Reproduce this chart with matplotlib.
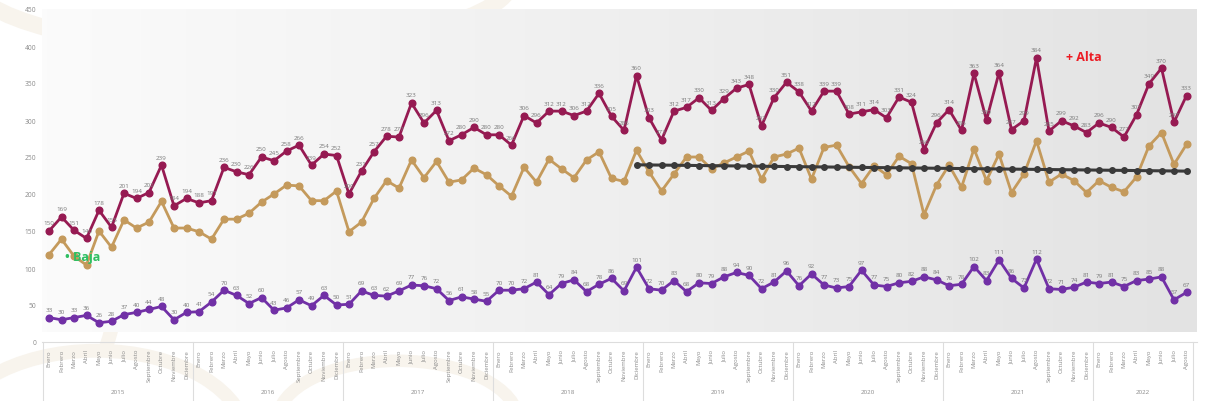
import numpy as np
import matplotlib
matplotlib.use("Agg")
import matplotlib.pyplot as plt
from matplotlib.patches import Arc

plt.rcParams['font.family'] = ['Open Sans', 'DejaVu Sans']

# --- data (Enero 2015 .. Agosto 2022) ---
months = ['Enero', 'Febrero', 'Marzo', 'Abril', 'Mayo', 'Junio', 'Julio',
          'Agosto', 'Septiembre', 'Octubre', 'Noviembre', 'Diciembre']
years = ['2015', '2016', '2017', '2018', '2019', '2020', '2021', '2022']
last_year_months = 8

alta = [150, 169, 151, 140, 178, 155, 201, 194, 202, 239, 184, 194,
        188, 191, 236, 230, 226, 250, 245, 258, 266, 239, 254, 252,
        200, 231, 257, 278, 277, 323, 296, 313, 272, 280, 290, 280,
        280, 266, 306, 296, 312, 312, 306, 312, 336, 305, 286, 360,
        303, 273, 312, 317, 330, 313, 329, 343, 348, 292, 330, 351,
        338, 312, 339, 339, 308, 311, 314, 303, 331, 324, 260, 296,
        314, 286, 363, 300, 364, 287, 299, 384, 285, 299, 292, 283,
        296, 290, 277, 307, 349, 370, 297, 333]

media = [118, 139, 116, 104, 150, 128, 165, 154, 162, 190, 154, 154,
         149, 139, 166, 166, 174, 189, 200, 212, 211, 191, 191, 204,
         149, 162, 194, 218, 208, 246, 222, 244, 216, 219, 235, 226,
         211, 197, 236, 216, 247, 234, 222, 246, 257, 221, 217, 259,
         230, 204, 227, 250, 250, 234, 242, 250, 258, 220, 250, 254,
         262, 220, 263, 266, 237, 214, 238, 226, 251, 241, 172, 212,
         239, 209, 261, 218, 254, 202, 227, 272, 216, 227, 218, 202,
         218, 209, 203, 223, 265, 283, 240, 267]

baja = [33, 30, 33, 36, 26, 28, 37, 40, 44, 48, 30, 40,
        41, 54, 70, 63, 52, 60, 43, 46, 57, 49, 63, 50,
        51, 69, 63, 62, 69, 77, 76, 72, 56, 61, 58, 55,
        70, 70, 72, 81, 64, 79, 84, 68, 78, 86, 69, 101,
        72, 70, 83, 68, 80, 79, 88, 94, 90, 72, 81, 96,
        76, 92, 77, 73, 75, 97, 77, 75, 80, 82, 88, 84,
        76, 78, 102, 83, 111, 86, 73, 112, 72, 71, 74, 81,
        79, 81, 75, 83, 85, 88, 57, 67]

trend_start = 47  # Diciembre 2018

# --- layout ---
W, H = 1205, 402
fig = plt.figure(figsize=(W / 100, H / 100), dpi=100)
fig.patch.set_facecolor('white')

# faint watermark swooshes
wm = '#f8f4ed'
for cx, cy, w, h, t1, t2, lw in [(-0.02, 0.55, 0.22, 1.3, -70, 70, 14),
                                 (-0.05, 0.35, 0.30, 1.1, -60, 60, 10),
                                 (0.20, 1.05, 0.45, 0.35, 180, 360, 12),
                                 (0.08, -0.10, 0.25, 0.45, 0, 180, 10),
                                 (0.33, -0.05, 0.20, 0.30, 0, 180, 9)]:
    fig.add_artist(Arc((cx, cy), w, h, theta1=t1, theta2=t2, color=wm,
                       lw=lw, transform=fig.transFigure, zorder=0))

x0, x1 = -0.56, 91.84
ax = fig.add_axes([42 / W, (H - 343) / H, 1155 / W, 333 / H])
ax.set_xlim(x0, x1)
ax.set_ylim(0, 450)
ax.patch.set_alpha(0)
for s in ax.spines.values():
    s.set_visible(False)

# grey gradient background of the plot area
grad = np.linspace(0, 1, 256).reshape(1, -1)
ax.imshow(grad, extent=[x0, x1, 13.5, 450], aspect='auto', origin='lower',
          cmap=matplotlib.colors.LinearSegmentedColormap.from_list('g', ['#fbfbfb', '#e3e3e3']),
          zorder=0)

x = np.arange(len(alta))
c_alta, c_media, c_baja = '#961a52', '#c49a5c', '#7130a6'

ax.plot(x, alta, color=c_alta, lw=2, marker='o', ms=4.8, zorder=3)
ax.plot(x, media, color=c_media, lw=2, marker='o', ms=4.8, zorder=3)
ax.plot(x, baja, color=c_baja, lw=2, marker='o', ms=4.8, zorder=3)

# trend of the middle series from Dec 2018
xt = x[trend_start:]
coef = np.polyfit(xt, np.array(media)[trend_start:], 1)
ax.plot(xt, np.polyval(coef, xt), color='#3a3a3a', lw=2.2, marker='o', ms=4,
        zorder=4)

lab = dict(fontsize=4.5, color='#7a7a7a', ha='center', va='bottom',
           textcoords='offset points', zorder=5)
for i, v in enumerate(alta):
    ax.annotate(str(v), (i, v), xytext=(0, 4), **lab)
for i, v in enumerate(baja):
    ax.annotate(str(v), (i, v), xytext=(0, 4), **lab)

ax.text(81.4, 386, '+ Alta', color='#ec1c24', fontsize=9, fontweight='bold',
        ha='left', va='center', zorder=6)
ax.text(1.3, 115, '• Baja', color='#2fbf62', fontsize=9, fontweight='bold',
        ha='left', va='center', zorder=6)

# axes ticks
ax.set_yticks(range(0, 451, 50))
ax.tick_params(axis='y', length=0, labelsize=4.8, labelcolor='#8a8a8a', pad=4)
tick_labels = [m for y in years[:-1] for m in months] + months[:last_year_months]
ax.set_xticks(x)
ax.set_xticklabels(tick_labels, rotation=90, va='top')
ax.tick_params(axis='x', length=0, labelsize=4.3, labelcolor='#8a8a8a', pad=5)

# x axis frame: top line, year separators and year labels
bt = ax.get_xaxis_transform()
bottom = -(H - 343) / 333.0
ax.plot([x0, x1], [0, 0], color='#dddddd', lw=0.8, clip_on=False, zorder=1)
seps = [-0.5 + 12 * k for k in range(len(years))] + [x1 - 0.3]
for s in seps:
    ax.plot([s, s], [0, bottom], color='#dddddd', lw=0.8, transform=bt,
            clip_on=False)
for k, yname in enumerate(years):
    n = 12 if k < len(years) - 1 else last_year_months
    ax.text(12 * k + (n - 1) / 2, bottom + 0.02, yname, transform=bt,
            fontsize=4.5, color='#8a8a8a', ha='center', va='bottom')

fig.savefig('out.png', dpi=100)
